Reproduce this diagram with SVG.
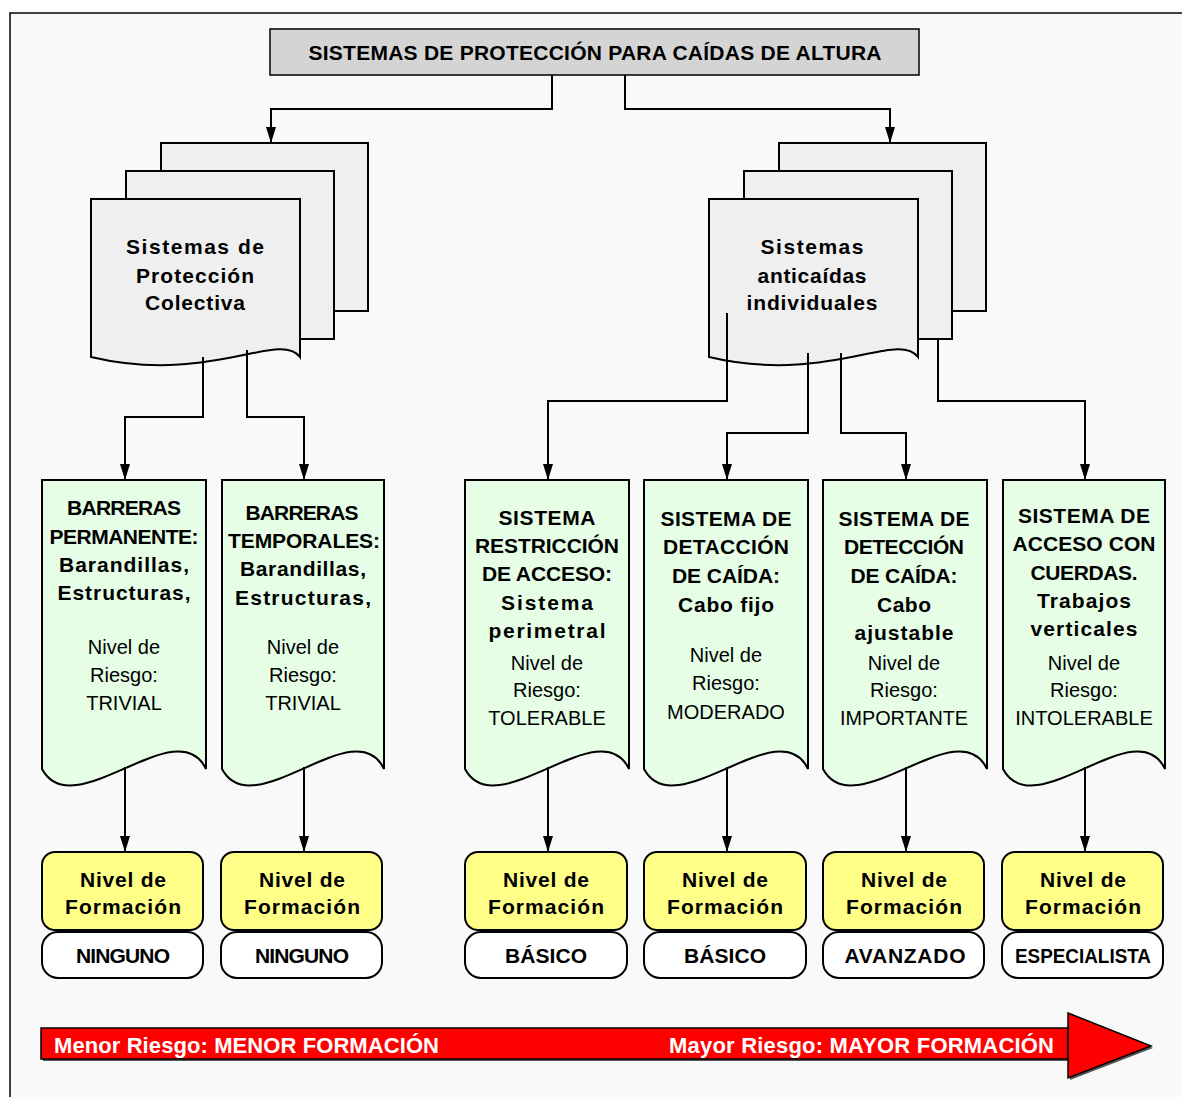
<svg xmlns="http://www.w3.org/2000/svg" width="1182" height="1097" viewBox="0 0 1182 1097">
<style>
.b{font-family:"Liberation Sans",Arial,sans-serif;font-weight:bold;font-size:21px;text-anchor:middle;fill:#000}
.r{font-family:"Liberation Sans",Arial,sans-serif;font-size:20px;text-anchor:middle;fill:#000}
.w{font-family:"Liberation Sans",Arial,sans-serif;font-weight:bold;font-size:22px;fill:#fff}
.stk{fill:#efefef;stroke:#000;stroke-width:2}
.doc{fill:#e6fee6;stroke:#000;stroke-width:2}
.yel{fill:#ffff88;stroke:#000;stroke-width:2}
.wht{fill:#fff;stroke:#000;stroke-width:2}
.con{fill:none;stroke:#000;stroke-width:2}
</style>
<defs>
<marker id="ah" viewBox="0 0 16 10" markerWidth="16" markerHeight="10" refX="16" refY="5" orient="auto" markerUnits="userSpaceOnUse">
<path d="M0,0 L16,5 L0,10 z" fill="#000"/>
</marker>
</defs>
<rect x="0" y="0" width="1182" height="1097" fill="#fff"/>
<rect x="10" y="13" width="1190" height="1100" fill="#f9f9f9" stroke="#000" stroke-width="1.5"/>

<g id="title">
<rect x="270" y="29" width="649" height="46" fill="#d4d4d4" stroke="#000" stroke-width="1.5"/>
<text class="b" x="595" y="60" textLength="573" lengthAdjust="spacing">SISTEMAS DE PROTECCIÓN PARA CAÍDAS DE ALTURA</text>
</g>

<g id="colectiva">
<rect class="stk" x="161" y="143" width="207" height="168"/>
<rect class="stk" x="126" y="171" width="208" height="168"/>
<path class="stk" d="M91,199 H300 V357 C279,330 209,385 91,357 Z"/>
<text class="b" x="195" y="254" textLength="138" lengthAdjust="spacing">Sistemas de</text>
<text class="b" x="195" y="283" textLength="118" lengthAdjust="spacing">Protección</text>
<text class="b" x="195" y="310" textLength="100" lengthAdjust="spacing">Colectiva</text>
</g>

<g id="individuales">
<rect class="stk" x="779" y="143" width="207" height="168"/>
<rect class="stk" x="744" y="171" width="208" height="168"/>
<path class="stk" d="M709,199 H918 V357 C897,330 827,385 709,357 Z"/>
<text class="b" x="812" y="254" textLength="103" lengthAdjust="spacing">Sistemas</text>
<text class="b" x="812" y="283" textLength="109" lengthAdjust="spacing">anticaídas</text>
<text class="b" x="812" y="310" textLength="131" lengthAdjust="spacing">individuales</text>
</g>

<g id="doc1">
<path class="doc" d="M42,480 H206 V769 C178,709 73,827 42,769 Z"/>
<text class="b" x="124" y="515" textLength="114" lengthAdjust="spacing">BARRERAS</text>
<text class="b" x="124" y="544" textLength="149" lengthAdjust="spacing">PERMANENTE:</text>
<text class="b" x="124" y="572" textLength="130" lengthAdjust="spacing">Barandillas,</text>
<text class="b" x="124" y="600" textLength="133" lengthAdjust="spacing">Estructuras,</text>
<text class="r" x="124" y="654">Nivel de</text>
<text class="r" x="124" y="682">Riesgo:</text>
<text class="r" x="124" y="710">TRIVIAL</text>
</g>

<g id="doc2">
<path class="doc" d="M222,480 H384 V769 C356,709 253,827 222,769 Z"/>
<text class="b" x="302" y="520" textLength="113" lengthAdjust="spacing">BARRERAS</text>
<text class="b" x="304" y="548" textLength="152" lengthAdjust="spacing">TEMPORALES:</text>
<text class="b" x="303" y="576" textLength="126" lengthAdjust="spacing">Barandillas,</text>
<text class="b" x="303" y="605" textLength="136" lengthAdjust="spacing">Estructuras,</text>
<text class="r" x="303" y="654">Nivel de</text>
<text class="r" x="303" y="682">Riesgo:</text>
<text class="r" x="303" y="710">TRIVIAL</text>
</g>

<g id="doc3">
<path class="doc" d="M465,480 H629 V769 C601,709 496,827 465,769 Z"/>
<text class="b" x="547" y="525" textLength="97" lengthAdjust="spacing">SISTEMA</text>
<text class="b" x="547" y="553" textLength="144" lengthAdjust="spacing">RESTRICCIÓN</text>
<text class="b" x="547" y="581" textLength="130" lengthAdjust="spacing">DE ACCESO:</text>
<text class="b" x="547" y="610" textLength="92" lengthAdjust="spacing">Sistema</text>
<text class="b" x="547" y="638" textLength="117" lengthAdjust="spacing">perimetral</text>
<text class="r" x="547" y="670">Nivel de</text>
<text class="r" x="547" y="697">Riesgo:</text>
<text class="r" x="547" y="725">TOLERABLE</text>
</g>

<g id="doc4">
<path class="doc" d="M644,480 H808 V769 C780,709 675,827 644,769 Z"/>
<text class="b" x="726" y="526" textLength="131" lengthAdjust="spacing">SISTEMA DE</text>
<text class="b" x="726" y="554" textLength="126" lengthAdjust="spacing">DETACCIÓN</text>
<text class="b" x="726" y="583" textLength="108" lengthAdjust="spacing">DE CAÍDA:</text>
<text class="b" x="726" y="612" textLength="96" lengthAdjust="spacing">Cabo fijo</text>
<text class="r" x="726" y="662">Nivel de</text>
<text class="r" x="726" y="690">Riesgo:</text>
<text class="r" x="726" y="719">MODERADO</text>
</g>

<g id="doc5">
<path class="doc" d="M823,480 H987 V769 C959,709 854,827 823,769 Z"/>
<text class="b" x="904" y="526" textLength="131" lengthAdjust="spacing">SISTEMA DE</text>
<text class="b" x="904" y="554" textLength="120" lengthAdjust="spacing">DETECCIÓN</text>
<text class="b" x="904" y="583" textLength="107" lengthAdjust="spacing">DE CAÍDA:</text>
<text class="b" x="904" y="612" textLength="54" lengthAdjust="spacing">Cabo</text>
<text class="b" x="904" y="640" textLength="99" lengthAdjust="spacing">ajustable</text>
<text class="r" x="904" y="670">Nivel de</text>
<text class="r" x="904" y="697">Riesgo:</text>
<text class="r" x="904" y="725" textLength="128" lengthAdjust="spacingAndGlyphs">IMPORTANTE</text>
</g>

<g id="doc6">
<path class="doc" d="M1003,480 H1165 V769 C1137,709 1034,827 1003,769 Z"/>
<text class="b" x="1084" y="523" textLength="132" lengthAdjust="spacing">SISTEMA DE</text>
<text class="b" x="1084" y="551" textLength="143" lengthAdjust="spacing">ACCESO CON</text>
<text class="b" x="1084" y="580" textLength="107" lengthAdjust="spacing">CUERDAS.</text>
<text class="b" x="1084" y="608" textLength="94" lengthAdjust="spacing">Trabajos</text>
<text class="b" x="1084" y="636" textLength="107" lengthAdjust="spacing">verticales</text>
<text class="r" x="1084" y="670">Nivel de</text>
<text class="r" x="1084" y="697">Riesgo:</text>
<text class="r" x="1084" y="725">INTOLERABLE</text>
</g>

<g id="form1">
<rect class="yel" x="42" y="852" width="161" height="78" rx="13"/>
<text class="b" x="123" y="887" textLength="86" lengthAdjust="spacing">Nivel de</text>
<text class="b" x="123" y="914" textLength="116" lengthAdjust="spacing">Formación</text>
<rect class="wht" x="42" y="932" width="161" height="46" rx="16"/>
<text class="b" x="123" y="963" textLength="94" lengthAdjust="spacing">NINGUNO</text>
</g>
<g id="form2">
<rect class="yel" x="221" y="852" width="161" height="78" rx="13"/>
<text class="b" x="302" y="887" textLength="86" lengthAdjust="spacing">Nivel de</text>
<text class="b" x="302" y="914" textLength="116" lengthAdjust="spacing">Formación</text>
<rect class="wht" x="221" y="932" width="161" height="46" rx="16"/>
<text class="b" x="302" y="963" textLength="94" lengthAdjust="spacing">NINGUNO</text>
</g>
<g id="form3">
<rect class="yel" x="465" y="852" width="162" height="78" rx="13"/>
<text class="b" x="546" y="887" textLength="86" lengthAdjust="spacing">Nivel de</text>
<text class="b" x="546" y="914" textLength="116" lengthAdjust="spacing">Formación</text>
<rect class="wht" x="465" y="932" width="162" height="46" rx="16"/>
<text class="b" x="546" y="963" textLength="82" lengthAdjust="spacing">BÁSICO</text>
</g>
<g id="form4">
<rect class="yel" x="644" y="852" width="162" height="78" rx="13"/>
<text class="b" x="725" y="887" textLength="86" lengthAdjust="spacing">Nivel de</text>
<text class="b" x="725" y="914" textLength="116" lengthAdjust="spacing">Formación</text>
<rect class="wht" x="644" y="932" width="162" height="46" rx="16"/>
<text class="b" x="725" y="963" textLength="82" lengthAdjust="spacing">BÁSICO</text>
</g>
<g id="form5">
<rect class="yel" x="823" y="852" width="161" height="78" rx="13"/>
<text class="b" x="904" y="887" textLength="86" lengthAdjust="spacing">Nivel de</text>
<text class="b" x="904" y="914" textLength="116" lengthAdjust="spacing">Formación</text>
<rect class="wht" x="823" y="932" width="161" height="46" rx="16"/>
<text class="b" x="905" y="963" textLength="121" lengthAdjust="spacing">AVANZADO</text>
</g>
<g id="form6">
<rect class="yel" x="1002" y="852" width="161" height="78" rx="13"/>
<text class="b" x="1083" y="887" textLength="86" lengthAdjust="spacing">Nivel de</text>
<text class="b" x="1083" y="914" textLength="116" lengthAdjust="spacing">Formación</text>
<rect class="wht" x="1002" y="932" width="161" height="46" rx="16"/>
<text class="b" x="1083" y="963" textLength="136" lengthAdjust="spacingAndGlyphs">ESPECIALISTA</text>
</g>

<g id="connectors">
<path class="con" d="M552,75 V109 H271 V143" marker-end="url(#ah)"/>
<path class="con" d="M625,75 V109 H890 V143" marker-end="url(#ah)"/>
<path class="con" d="M203,357 V417 H125 V480" marker-end="url(#ah)"/>
<path class="con" d="M247,350 V417 H304 V480" marker-end="url(#ah)"/>
<path class="con" d="M727,313 V401 H548 V480" marker-end="url(#ah)"/>
<path class="con" d="M808,353 V433 H727 V480" marker-end="url(#ah)"/>
<path class="con" d="M841,353 V433 H906 V480" marker-end="url(#ah)"/>
<path class="con" d="M938,340 V401 H1085 V480" marker-end="url(#ah)"/>
<path class="con" d="M125,767 V852" marker-end="url(#ah)"/>
<path class="con" d="M304,767 V852" marker-end="url(#ah)"/>
<path class="con" d="M548,767 V852" marker-end="url(#ah)"/>
<path class="con" d="M727,767 V852" marker-end="url(#ah)"/>
<path class="con" d="M906,767 V852" marker-end="url(#ah)"/>
<path class="con" d="M1085,767 V852" marker-end="url(#ah)"/>
</g>

<g id="riesgo">
<rect x="43" y="1030" width="1027" height="31" fill="#555"/>
<path d="M1070,1015 L1153,1048 L1070,1080 Z" fill="#555"/>
<rect x="41" y="1028" width="1027" height="31" fill="#ff0000" stroke="#000" stroke-width="1.5"/>
<path d="M1068,1013 L1151,1046 L1068,1078 Z" fill="#ff0000" stroke="#000" stroke-width="1.5"/>
<text class="w" x="54" y="1053" textLength="385" lengthAdjust="spacing">Menor Riesgo: MENOR FORMACIÓN</text>
<text class="w" x="669" y="1053" textLength="385" lengthAdjust="spacing">Mayor Riesgo: MAYOR FORMACIÓN</text>
</g>
</svg>
